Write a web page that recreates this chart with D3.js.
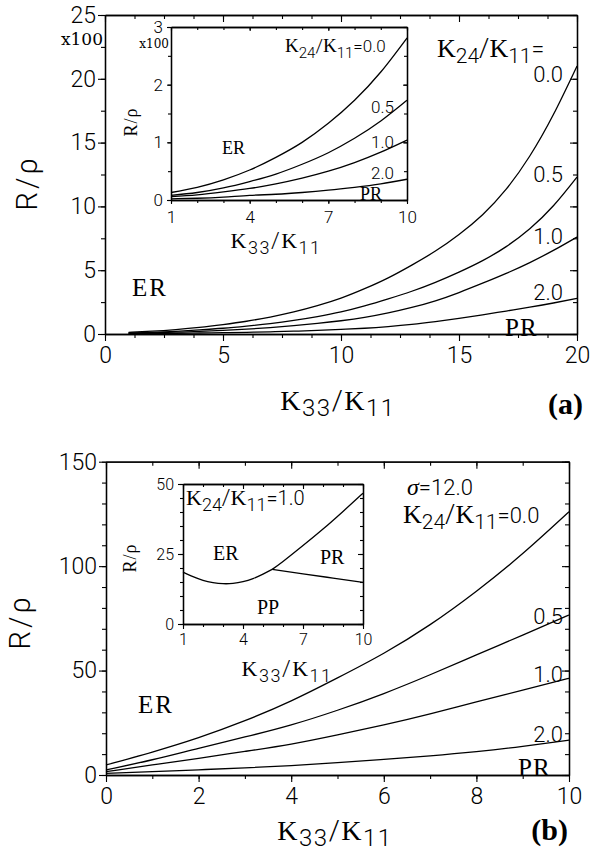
<!DOCTYPE html>
<html><head><meta charset="utf-8">
<script src="https://cdn.jsdelivr.net/npm/d3@7"></script>
<style>
html,body{margin:0;padding:0;background:#fff;}
svg{display:block;}
</style></head>
<body><svg id="c" width="600" height="858"></svg>
<script>
// ---------------- data ----------------
// Panel (a): R/rho (x100) vs K33/K11
const aX = [1,2,3,4,5,6,7,8,9,10,11,12,13,14,15,16,17,18,19,20];
const aK00 = [0.13,0.22,0.35,0.52,0.74,1.0,1.33,1.73,2.22,2.81,3.55,4.4,5.4,6.5,7.8,9.35,11.35,13.95,17.2,21.0];
const aK05 = [0.08,0.13,0.21,0.32,0.45,0.62,0.82,1.07,1.37,1.73,2.2,2.75,3.35,4.05,4.85,5.75,6.85,8.25,10.05,12.3];
const aK10 = [0.06,0.09,0.14,0.2,0.28,0.38,0.5,0.65,0.83,1.04,1.3,1.65,2.08,2.6,3.25,3.98,4.75,5.6,6.55,7.6];
const aK20 = [0.02,0.03,0.05,0.08,0.1,0.13,0.17,0.22,0.28,0.36,0.45,0.58,0.75,0.97,1.22,1.5,1.8,2.1,2.43,2.79];
const aLabels = ["0.0","0.5","1.0","2.0"];
const aXTicks = [0,5,10,15,20];
const aYTicks = [0,5,10,15,20,25];
const aInXTicks = [1,4,7,10];
const aInYTicks = [0,1,2,3];

// Panel (b): sigma = 12.0
const bX = [0,1,2,3,4,5,6,7,8,9,10];
const bK00 = [4.8,11,17.9,26,35.5,46.5,58.3,72,88,106,126];
const bK05 = [2.4,7.3,12.8,18.2,24,31,39,48,57.5,67,76.6];
const bK10 = [1.6,4.8,8.0,11.3,14.8,19.2,24,29.3,35,40.6,46.3];
const bK20 = [0.8,1.6,2.5,3.4,4.5,5.9,7.5,9.2,11.2,13.7,16.7];
const bLabels = ["0.5","1.0","2.0"];
const bXTicks = [0,2,4,6,8,10];
const bYTicks = [0,50,100,150];
// inset (b): K24/K11 = 1.0 phase boundaries
const erppX = [1,1.5,2,2.5,3,3.5,4,4.5,5,5.46];
const erppY = [18.5,16.9,15.6,14.8,14.4,14.5,15.1,16.2,17.8,19.5];
const erprX = [5.46,6,7,8,9,10];
const erprY = [19.5,22.3,28.0,33.9,40.2,46.7];
const prppX = [5.46,7,8.5,10];
const prppY = [19.5,17.9,16.4,14.9];
const bInXTicks = [1,4,7,10];
const bInYTicks = [0,25,50];

// ---------------- drawing ----------------
const SANS = "Roboto, 'DejaVu Sans', sans-serif";
const SW = 300;
const SERIF = "'Liberation Serif', 'Times New Roman', serif";
const DSERIF = "'DejaVu Serif', serif";
const svg = d3.select('#c');
svg.append('rect').attr('width',600).attr('height',858).attr('fill','#fff');

function range(a,b,s){const r=[];for(let v=a;v<=b+1e-9;v+=s)r.push(+v.toFixed(4));return r;}

function frame(g,x,y,o){
  const [x0,x1]=x.range(), [y0,y1]=y.range();
  const st = sel=>{sel.selectAll('text').attr('font-family',SANS).attr('font-weight',SW).attr('font-size',o.fs).attr('fill','#000');};
  g.append('g').attr('transform',`translate(0,${y0})`)
    .call(d3.axisBottom(x).tickValues(o.xMinor).tickSize(o.mt).tickSizeOuter(0).tickFormat(''));
  g.append('g').attr('transform',`translate(0,${y0})`)
    .call(d3.axisBottom(x).tickValues(o.xMajor).tickSize(o.tl).tickSizeOuter(0).tickPadding(o.xp).tickFormat(d3.format('d'))).call(st);
  g.append('g').attr('transform',`translate(0,${y1})`)
    .call(d3.axisTop(x).tickValues(o.xMinor).tickSize(-o.mt).tickSizeOuter(0).tickFormat(''));
  g.append('g').attr('transform',`translate(0,${y1})`)
    .call(d3.axisTop(x).tickValues(o.xMajor).tickSize(-o.tl).tickSizeOuter(0).tickFormat(''));
  g.append('g').attr('transform',`translate(${x0},0)`)
    .call(d3.axisLeft(y).tickValues(o.yMinor).tickSize(o.mt).tickSizeOuter(0).tickFormat(''));
  g.append('g').attr('transform',`translate(${x0},0)`)
    .call(d3.axisLeft(y).tickValues(o.yMajor).tickSize(o.tl).tickSizeOuter(0).tickPadding(o.yp).tickFormat(d3.format('d'))).call(st);
  g.append('g').attr('transform',`translate(${x1},0)`)
    .call(d3.axisRight(y).tickValues(o.yMinor).tickSize(-o.mt).tickSizeOuter(0).tickFormat(''));
  g.append('g').attr('transform',`translate(${x1},0)`)
    .call(d3.axisRight(y).tickValues(o.yMajor).tickSize(-o.tl).tickSizeOuter(0).tickFormat(''));
  g.selectAll('.domain').attr('stroke','#000').attr('stroke-width',1.3);
  g.selectAll('.tick line').attr('stroke','#000').attr('stroke-width',1.1);
}

function curve(g,x,y,xs,ys,filter){
  let pts = xs.map((v,i)=>[v,ys[i]]);
  if(filter) pts = pts.filter(filter);
  g.append('path').datum(pts)
    .attr('d',d3.line().x(d=>x(d[0])).y(d=>y(d[1])).curve(d3.curveNatural))
    .attr('fill','none').attr('stroke','#000').attr('stroke-width',1.3);
}

// rich text: parts [text, font, size, baselineShift, style]
function rich(g,x,y,parts,anchor,extra){
  const t=g.append('text').attr('x',x).attr('y',y).attr('text-anchor',anchor||'start').attr('fill','#000');
  if(extra) extra(t);
  let shifted=0;
  parts.forEach(p=>{
    const ts=t.append('tspan').text(p[0]).attr('font-family',p[1]).attr('font-size',p[2]);
    if(p[1]===SANS) ts.attr('font-weight',SW);
    const want = p[3]?p[3]:0;
    const dy = want-shifted;
    if(dy!==0) ts.attr('dy',dy);
    shifted=want;
    if(p[4]) ts.attr('font-style',p[4]);
  });
  return t;
}
function label(g,x,y,s,font,size,anchor){
  const t = g.append('text').attr('x',x).attr('y',y).text(s).attr('font-family',font).attr('font-size',size)
   .attr('text-anchor',anchor||'start').attr('fill','#000');
  if(font===SANS) t.attr('font-weight',SW);
  return t;
}
function kRatio(a,b,K,S){ // K_a / K_b
  return [['K',SERIF,K],[a,SANS,S,6],['/',SANS,K,0],['K',SERIF,K,0],[b,SANS,S,6]];
}

// ===== Panel (a) =====
const ga = svg.append('g');
const ax = d3.scaleLinear().domain([0,20]).range([105,577]);
const ay = d3.scaleLinear().domain([0,25]).range([334,15]);
frame(ga,ax,ay,{xMajor:aXTicks,xMinor:range(0,20,1.25),yMajor:aYTicks,yMinor:range(0,25,2.5),tl:7,mt:4,xp:6,yp:2,fs:23});
[aK00,aK05,aK10,aK20].forEach(s=>curve(ga,ax,ay,aX,s));
label(ga,103,45,'x100',DSERIF,17,'end');
rich(ga,437,57,kRatio('24','11',26,21).concat([['=',SANS,23,0]]));
label(ga,563,82,aLabels[0],SANS,22,'end');
label(ga,563,182,aLabels[1],SANS,22,'end');
label(ga,563,244,aLabels[2],SANS,22,'end');
label(ga,563,300,aLabels[3],SANS,22,'end');
label(ga,505,336,'PR',SERIF,25).attr('letter-spacing',1);
label(ga,132,296,'ER',SERIF,25).attr('letter-spacing',2);
// axis titles
label(ga,0,0,'R/\u03c1',SANS,29).attr('transform','translate(37,183) rotate(-90)').attr('text-anchor','middle').attr('letter-spacing',3);
rich(ga,338,410,kRatio('33','11',28,24),'middle',t=>t.attr('letter-spacing',1.5));
label(ga,583,414,'(a)',SERIF,30,'end').attr('font-weight','bold');

// inset (a)
const gai = svg.append('g');
const iax = d3.scaleLinear().domain([1,10]).range([171,407]);
const iay = d3.scaleLinear().domain([0,3]).range([200,27]);
gai.append('rect').attr('x',171).attr('y',27).attr('width',236).attr('height',173).attr('fill','#fff');
frame(gai,iax,iay,{xMajor:aInXTicks,xMinor:range(1,10,1),yMajor:aInYTicks,yMinor:range(0,3,0.5),tl:4,mt:3,xp:7,yp:4,fs:17});
[aK00,aK05,aK10,aK20].forEach(s=>curve(gai,iax,iay,aX,s,d=>d[0]<=10));
label(gai,169,48,'x100',DSERIF,12,'end');
rich(gai,285,52,kRatio('24','11',19,15).concat([['=0.0',SANS,17,0]]));
label(gai,394,113,aLabels[1],SANS,17,'end');
label(gai,394,148,aLabels[2],SANS,17,'end');
label(gai,394,179,aLabels[3],SANS,17,'end');
label(gai,360,200,'PR',SERIF,18);
label(gai,222,154,'ER',SERIF,18);
label(gai,0,0,'R/\u03c1',SERIF,18).attr('transform','translate(137,122) rotate(-90)').attr('text-anchor','middle').attr('letter-spacing',1);
rich(gai,276,248,kRatio('33','11',22,18),'middle',t=>t.attr('letter-spacing',1.5));

// ===== Panel (b) =====
const gb = svg.append('g');
const bx = d3.scaleLinear().domain([0,10]).range([106,569]);
const by = d3.scaleLinear().domain([0,150]).range([775,461.7]);
frame(gb,bx,by,{xMajor:bXTicks,xMinor:range(0,10,1),yMajor:bYTicks,yMinor:range(0,150,10),tl:7,mt:4,xp:6,yp:2,fs:23});
[bK00,bK05,bK10,bK20].forEach(s=>curve(gb,bx,by,bX,s));
rich(gb,407,495,[['\u03c3',SERIF,24,0,'italic'],['=12.0',SANS,22,0]]);
rich(gb,403,523,kRatio('24','11',26,21).concat([['=0.0',SANS,22,0]]));
label(gb,563,624,bLabels[0],SANS,22,'end');
label(gb,563,682,bLabels[1],SANS,22,'end');
label(gb,563,742,bLabels[2],SANS,22,'end');
label(gb,518,776,'PR',SERIF,25).attr('letter-spacing',1);
label(gb,138,713,'ER',SERIF,25).attr('letter-spacing',2);
label(gb,0,0,'R/\u03c1',SANS,29).attr('transform','translate(30,622) rotate(-90)').attr('text-anchor','middle').attr('letter-spacing',3);
rich(gb,335,840,kRatio('33','11',28,24),'middle',t=>t.attr('letter-spacing',1.5));
label(gb,568,840,'(b)',SERIF,30,'end').attr('font-weight','bold');

// inset (b)
const gbi = svg.append('g');
const ibx = d3.scaleLinear().domain([1,10]).range([183,363]);
const iby = d3.scaleLinear().domain([0,50]).range([624,484]);
gbi.append('rect').attr('x',183).attr('y',484).attr('width',180).attr('height',140).attr('fill','#fff');
frame(gbi,ibx,iby,{xMajor:bInXTicks,xMinor:range(1,10,1),yMajor:bInYTicks,yMinor:range(0,50,5),tl:5,mt:3,xp:5,yp:4,fs:16});
curve(gbi,ibx,iby,erppX,erppY);
curve(gbi,ibx,iby,erprX,erprY);
curve(gbi,ibx,iby,prppX,prppY);
rich(gbi,186,505,kRatio('24','11',22,18).concat([['=1.0',SANS,20,0]]));
label(gbi,213,560,'ER',SERIF,20);
label(gbi,320,564,'PR',SERIF,20);
label(gbi,257,614,'PP',SERIF,20);
label(gbi,0,0,'R/\u03c1',SERIF,18).attr('transform','translate(136,558) rotate(-90)').attr('text-anchor','middle').attr('letter-spacing',1);
rich(gbi,287,676,kRatio('33','11',22,18),'middle',t=>t.attr('letter-spacing',1.5));
</script></body></html>
